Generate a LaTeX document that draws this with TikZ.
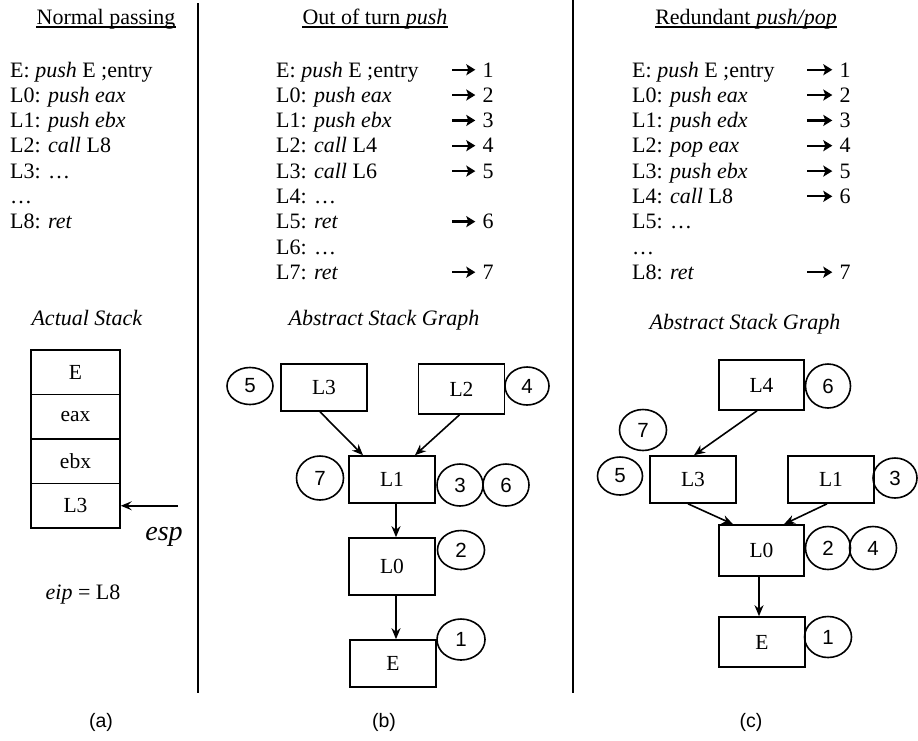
\documentclass[tikz,border=0pt]{standalone}
\usepackage{fontspec}
\setmainfont{Liberation Serif}
\newfontfamily\capfont{Liberation Sans}
\newfontfamily\numfont{Liberation Sans}
\usetikzlibrary{shapes.geometric,arrows.meta}

\begin{document}
\begin{tikzpicture}[x=1pt,y=-1pt,
 txt/.style={inner sep=0pt, font=\fontsize{22}{25}\selectfont},
 codeln/.style={txt, anchor=base west},
 numtxt/.style={txt, anchor=base},
 ttl/.style={txt, anchor=base},
 box/.style={draw, line width=1.6pt, inner sep=0pt, minimum width=86pt, minimum height=47pt, font=\fontsize{21.5}{25}\selectfont},
 cell/.style={box, minimum width=89pt, minimum height=44.5pt},
 lbl/.style={draw, ellipse, line width=1.6pt, inner sep=0pt, minimum width=46pt, minimum height=40pt, font=\numfont\fontsize{20.5}{22}\selectfont},
 conn/.style={line width=1.6pt, -{Stealth[length=11pt,width=9pt,inset=3.5pt]}},
 espar/.style={line width=1.5pt, -{Stealth[length=11pt,width=9pt,inset=4.5pt]}},
 codearr/.style={line width=2.3pt, -{Stealth[length=9pt,width=11pt,inset=2pt]}},
 captxt/.style={inner sep=0pt, font=\capfont\fontsize{19.5}{22}\selectfont},
 divider/.style={line width=2pt},
 uline/.style={line width=1.1pt},
]
\useasboundingbox (0,0) rectangle (918,740);

% dividers
\coordinate (d1t) at (198,3); \coordinate (d1b) at (198,693);
\coordinate (d2t) at (573,0); \coordinate (d2b) at (573,693);
\draw[divider] (d1t) -- (d1b);
\draw[divider] (d2t) -- (d2b);

% ---------------- (a)
\node[ttl] (ta) at (106,24) {Normal passing};
\draw[uline] ([yshift=-3pt]ta.base west) -- ([yshift=-3pt]ta.base east);
\node[codeln] (a1) at (10,77)    {E: \textit{push} E ;entry};
\node[codeln] (a2) at (10,102.3) {L0: \textit{push eax}};
\node[codeln] (a3) at (10,127.6) {L1: \textit{push ebx}};
\node[codeln] (a4) at (10,152.9) {L2: \textit{call} L8};
\node[codeln] (a5) at (10,178.2) {L3: …};
\node[codeln] (a6) at (10,203.5) {…};
\node[codeln] (a7) at (10,228.8) {L8: \textit{ret}};

\node[ttl] (sa) at (87,325) {\textit{Actual Stack}};
\node[cell] (stE)   at (75.5,372.25) {E};
\node[cell] (steax) at (75.5,416.75) {eax};
\node[cell] (stebx) at (75.5,461.25) {ebx};
\node[cell] (stL3)  at (75.5,505.75) {L3};
\coordinate (espstart) at (178,505.75);
\draw[espar] (espstart) -- (stL3.east);
\node[txt, font=\fontsize{28}{30}\selectfont] (esp) at (164,537) {\textit{esp}};
\node[txt] (eip) at (83,595) {\textit{eip} = L8};
\node[captxt] (capa) at (101,722) {(a)};

% ---------------- (b)
\node[ttl] (tb) at (375,24) {Out of turn \textit{push}};
\draw[uline] ([yshift=-3pt]tb.base west) -- ([yshift=-3pt]tb.base east);
\node[codeln] (b1) at (276,77)    {E: \textit{push} E ;entry};
\node[codeln] (b2) at (276,102.3) {L0: \textit{push eax}};
\node[codeln] (b3) at (276,127.6) {L1: \textit{push ebx}};
\node[codeln] (b4) at (276,152.9) {L2: \textit{call} L4};
\node[codeln] (b5) at (276,178.2) {L3: \textit{call} L6};
\node[codeln] (b6) at (276,203.5) {L4: …};
\node[codeln] (b7) at (276,228.8) {L5: \textit{ret}};
\node[codeln] (b8) at (276,254.1) {L6: …};
\node[codeln] (b9) at (276,279.4) {L7: \textit{ret}};
\node[numtxt] (bn1) at (488,77)    {1};
\node[numtxt] (bn2) at (488,102.3) {2};
\node[numtxt] (bn3) at (488,127.6) {3};
\node[numtxt] (bn4) at (488,152.9) {4};
\node[numtxt] (bn5) at (488,178.2) {5};
\node[numtxt] (bn6) at (488,228.8) {6};
\node[numtxt] (bn7) at (488,279.4) {7};
\foreach \n in {bn1,bn2,bn3,bn4,bn5,bn6,bn7}
  \draw[codearr] ([xshift=-30pt]\n.west) -- ([xshift=-7pt]\n.west);

\node[ttl] (gb) at (384,325) {\textit{Abstract Stack Graph}};
\node[box] (bL3) at (324,387.5) {L3};
\node[box, minimum height=50pt] (bL2) at (461.5,389) {L2};
\node[box] (bL1) at (392,479.5) {L1};
\node[box, minimum height=57pt] (bL0) at (392,566.5) {L0};
\node[box] (bE)  at (393,663.5) {E};
\node[lbl, minimum height=37pt] (bc5) at (250,386) {5};
\node[lbl, minimum width=44pt, minimum height=38pt] (bc4) at (527,386) {4};
\node[lbl, minimum width=47pt, minimum height=44pt] (bc7) at (320,478) {7};
\node[lbl, minimum height=42pt] (bc3) at (460,485) {3};
\node[lbl, minimum height=42pt] (bc6) at (506,485) {6};
\node[lbl, minimum width=47pt, minimum height=39pt] (bc2) at (461,550) {2};
\node[lbl, minimum width=48pt, minimum height=41pt] (bc1) at (461,639.5) {1};
\draw[conn] ([xshift=-4pt]bL3.south) -- ([xshift=-29pt]bL1.north);
\draw[conn] ([xshift=-2pt]bL2.south) -- ([xshift=23pt]bL1.north);
\draw[conn] ([xshift=4pt]bL1.south) -- ([xshift=4pt]bL0.north);
\draw[conn] ([xshift=4pt]bL0.south) -- ([xshift=3pt]bE.north);
\node[captxt] (capb) at (384,722) {(b)};

% ---------------- (c)
\node[ttl] (tc) at (746,24) {Redundant \textit{push/pop}};
\draw[uline] ([yshift=-3pt]tc.base west) -- ([yshift=-3pt]tc.base east);
\node[codeln] (c1) at (632,77)    {E: \textit{push} E ;entry};
\node[codeln] (c2) at (632,102.3) {L0: \textit{push eax}};
\node[codeln] (c3) at (632,127.6) {L1: \textit{push edx}};
\node[codeln] (c4) at (632,152.9) {L2: \textit{pop eax}};
\node[codeln] (c5) at (632,178.2) {L3: \textit{push ebx}};
\node[codeln] (c6) at (632,203.5) {L4: \textit{call} L8};
\node[codeln] (c7) at (632,228.8) {L5: …};
\node[codeln] (c8) at (632,254.1) {…};
\node[codeln] (c9) at (632,279.4) {L8: \textit{ret}};
\node[numtxt] (cn1) at (845,77)    {1};
\node[numtxt] (cn2) at (845,102.3) {2};
\node[numtxt] (cn3) at (845,127.6) {3};
\node[numtxt] (cn4) at (845,152.9) {4};
\node[numtxt] (cn5) at (845,178.2) {5};
\node[numtxt] (cn6) at (845,203.5) {6};
\node[numtxt] (cn7) at (845,279.4) {7};
\foreach \n in {cn1,cn2,cn3,cn4,cn5,cn6,cn7}
  \draw[codearr] ([xshift=-32pt]\n.west) -- ([xshift=-7pt]\n.west);

\node[ttl] (gc) at (745,329) {\textit{Abstract Stack Graph}};
\node[box, minimum width=85pt, minimum height=50pt] (cL4) at (761.5,385) {L4};
\node[box] (cL3) at (693,479.5) {L3};
\node[box] (cL1) at (831,479.5) {L1};
\node[box, minimum width=85pt, minimum height=51pt] (cL0) at (761.5,550.5) {L0};
\node[box, minimum height=50pt] (cE) at (762,642) {E};
\node[lbl, minimum width=45pt, minimum height=44pt] (cc6) at (828,386) {6};
\node[lbl, minimum width=47pt, minimum height=41pt] (cc7) at (643,430) {7};
\node[lbl, minimum width=45pt, minimum height=38pt] (cc5) at (620,476) {5};
\node[lbl, minimum width=44pt, minimum height=40pt] (cc3) at (895,478) {3};
\node[lbl, minimum width=45pt, minimum height=43pt] (cc2) at (828,548) {2};
\node[lbl, minimum width=47pt, minimum height=43pt] (cc4) at (873,548) {4};
\node[lbl, minimum width=47pt, minimum height=41pt] (cc1) at (828,637) {1};
\draw[conn] ([xshift=-4.5pt]cL4.south) -- ([xshift=1pt]cL3.north);
\draw[conn] ([xshift=-5pt]cL3.south) -- ([xshift=-28.5pt]cL0.north);
\draw[conn] ([xshift=-4pt]cL1.south) -- ([xshift=22.5pt]cL0.north);
\draw[conn] ([xshift=-2.5pt]cL0.south) -- ([xshift=-3pt]cE.north);
\node[captxt] (capc) at (751,722) {(c)};
\end{tikzpicture}
\end{document}
